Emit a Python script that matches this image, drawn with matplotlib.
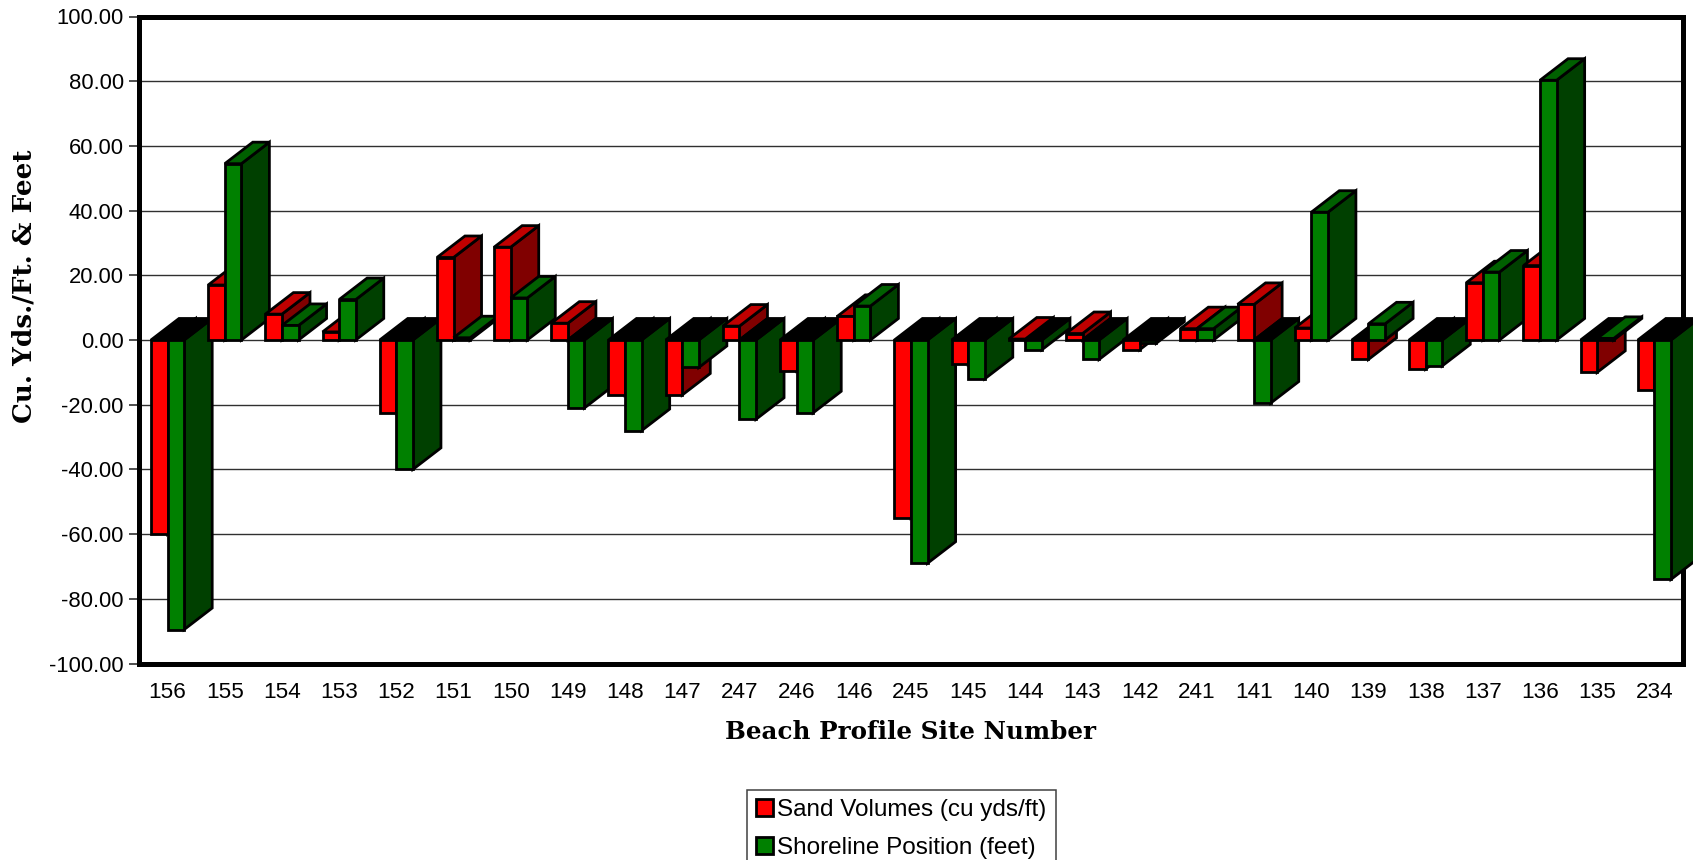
import matplotlib
matplotlib.use("Agg")
import matplotlib.pyplot as plt
from matplotlib.patches import Polygon, Patch

sites = ["156","155","154","153","152","151","150","149","148","147","247","246","146","245",
         "145","144","143","142","241","141","140","139","138","137","136","135","234"]
sand = [-60,17,8,2.5,-22.5,25.5,28.7,5.2,-17,-17,4.3,-9.5,7.3,-55,-7.5,0.3,2,-3,3.5,11,3.7,-6,-9,17.7,23,-10,-15.5]
shore = [-89.5,54.5,4.5,12.5,-40,0.7,13,-21,-28,-8.5,-24.5,-22.5,10.5,-69,-12,-3,-6,-1,3.5,-19.5,39.5,5,-8,21,80.3,0.5,-74]
yticks = [100,80,60,40,20,0,-20,-40,-60,-80,-100]

W, H = 1693, 860
plt.rcParams['font.family'] = ['Liberation Sans', 'DejaVu Sans']
fig = plt.figure(figsize=(W/100, H/100), dpi=100, facecolor='white')
L, R, T, B = 139, 1683, 16.5, 663.5
ax = fig.add_axes([L/W, 1-B/H, (R-L)/W, (B-T)/H])
ax.set_xlim(0, 27)
ax.set_ylim(-100, 100)
ax.set_axisbelow(True)
ax.grid(axis='y', color='#303030', lw=1.0)
for s in ax.spines.values():
    s.set_linewidth(3.6)
    s.set_color('black')
    s.set_zorder(1.5)
ax.set_yticks(yticks)
ax.set_yticklabels([f"{v:.2f}" for v in yticks], fontsize=15.8)
ax.set_xticks([i+0.5 for i in range(len(sites))])
ax.set_xticklabels(sites, fontsize=16.2)
ax.tick_params(axis='y', length=7.5, width=1.2, pad=3.5, color='#303030')
ax.tick_params(axis='x', length=0, pad=13)

BW = 0.29
DX = 0.49
DY = 6.65
LW = 2.0
SAND = ('#ff0000', '#c00000', '#800000')
SHORE = ('#008000', '#006000', '#004000')

def bar3d(x, v, cols, z):
    front, top, side = cols
    y = max(v, 0)
    ax.add_patch(Polygon([(x+BW, 0), (x+BW, v), (x+BW+DX, v+DY), (x+BW+DX, DY)], closed=True,
                         fc=side, ec='black', lw=LW, joinstyle='miter', zorder=z, clip_on=False))
    ax.add_patch(Polygon([(x, y), (x+BW, y), (x+BW+DX, y+DY), (x+DX, y+DY)], closed=True,
                         fc=top if v >= 0 else 'black', ec='black', lw=LW, joinstyle='miter', zorder=z+0.01, clip_on=False))
    ax.bar(x, v, BW, align='edge', color=front, edgecolor='black', linewidth=LW, zorder=z+0.02, clip_on=False)

for i in range(len(sites)):
    c = i + 0.5
    bar3d(c-BW, sand[i], SAND, 2+i*0.2)
    bar3d(c, shore[i], SHORE, 2.1+i*0.2)

serif = ['DejaVu Serif']
fig.text(24/W, 1-286/H, "Cu. Yds./Ft. & Feet", rotation=90, ha='center', va='center',
         fontsize=18.9, fontweight='bold', family=serif)
fig.text(910/W, 1-732/H, "Beach Profile Site Number", ha='center', va='center',
         fontsize=17.7, fontweight='bold', family=serif)

handles = [Patch(fc='#ff0000', ec='black', lw=2.0, label="Sand Volumes (cu yds/ft)"),
           Patch(fc='#008000', ec='black', lw=2.0, label="Shoreline Position (feet)")]
leg = fig.legend(handles=handles, loc='upper left', bbox_to_anchor=(747/W, 1-790/H),
                 bbox_transform=fig.transFigure, fontsize=17.45, frameon=True, fancybox=False,
                 framealpha=1, edgecolor='#404040', borderaxespad=0, borderpad=0.38,
                 labelspacing=0.66, handlelength=0.7, handleheight=0.7, handletextpad=0.17)
leg.get_frame().set_linewidth(1.1)

fig.savefig("out.png", dpi=100)
